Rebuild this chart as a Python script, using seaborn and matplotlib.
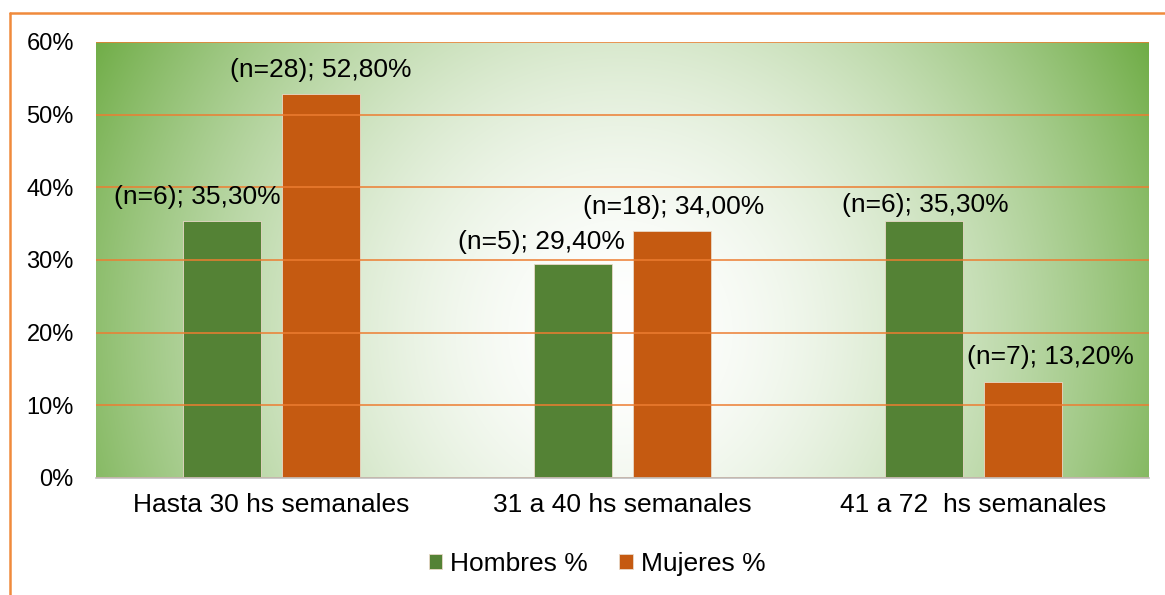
import numpy as np
import pandas as pd
import matplotlib
matplotlib.use('Agg')
import matplotlib.pyplot as plt
import seaborn as sns
from matplotlib.lines import Line2D
from matplotlib.colors import to_rgb

# datos del grafico
categorias = ['Hasta 30 hs semanales', '31 a 40 hs semanales', '41 a 72  hs semanales']
series = ['Hombres %', 'Mujeres %']
hombres_pct = [35.3, 29.4, 35.3]
mujeres_pct = [52.8, 34.0, 13.2]
hombres_n = [6, 5, 6]
mujeres_n = [28, 18, 7]
y_ticks = [0, 10, 20, 30, 40, 50, 60]

df = pd.DataFrame({
    'cat': categorias * 2,
    'pct': hombres_pct + mujeres_pct,
    'n': hombres_n + mujeres_n,
    'sexo': [series[0]] * 3 + [series[1]] * 3,
})

sns.set_theme(style='white')
plt.rcParams['font.family'] = ['Liberation Sans', 'DejaVu Sans']
plt.rcParams['text.color'] = 'black'

W, H = 1165, 595
fig = plt.figure(figsize=(W / 100, H / 100), dpi=100)
ax = fig.add_axes([96 / W, 1 - 478 / H, (1149 - 96) / W, (478 - 42) / H])

verde = '#548235'
naranja = '#C55A11'
sns.barplot(data=df, x='cat', y='pct', hue='sexo', palette=[verde, naranja],
            width=0.566, gap=0.214, ax=ax, saturation=1,
            edgecolor='#e9d9c8', linewidth=0.6, zorder=2)

# fondo degradado radial (blanco al centro, verde en los bordes)
pw, ph = 1053, 436
xx, yy = np.meshgrid(np.arange(pw), np.arange(ph))
r = np.sqrt((xx - 524) ** 2 + (yy - 290) ** 2) / 600
t = np.clip(r, 0, 1) ** 1.8
g = np.array(to_rgb('#70AD47'))
img = (1 - t)[..., None] * np.ones(3) + t[..., None] * g
ax.imshow(img, extent=(0, 1, 0, 1), transform=ax.transAxes, aspect='auto',
          zorder=0, interpolation='bilinear')

ax.set_xlim(-0.5, 2.5)
ax.set_ylim(0, 60)
ax.set_yticks(y_ticks)
ax.set_yticklabels([f'{v}%' for v in y_ticks])
ax.yaxis.grid(True, color='#ED7D31', lw=1.1, zorder=1)
ax.set_axisbelow(False)
for gl in ax.get_ygridlines():
    gl.set_zorder(1)
for s in ['top', 'right', 'left']:
    ax.spines[s].set_visible(False)
ax.spines['bottom'].set_color('#BFBFBF')
ax.spines['bottom'].set_linewidth(1.2)
ax.spines['bottom'].set_zorder(3)
ax.tick_params(axis='x', labelsize=19, pad=11, length=0, colors='black')
ax.tick_params(axis='y', labelsize=17, pad=16, length=0, colors='black')
ax.set_xlabel('')
ax.set_ylabel('')

# etiquetas de datos (desplazamiento en pixeles respecto al tope de la barra)
label_shift = [[(-25, 24), (-31, 22), (1, 16)],
               [(0, 24), (1, 24), (27, 25)]]
ns = [hombres_n, mujeres_n]
for i, cont in enumerate(ax.containers):
    for j, bar in enumerate(cont):
        val = bar.get_height()
        txt = f'(n={ns[i][j]}); {val:.2f}%'.replace('.', ',')
        dx, dy = label_shift[i][j]
        ax.annotate(txt, (bar.get_x() + bar.get_width() / 2, val),
                    xytext=(dx, dy), textcoords='offset pixels',
                    ha='center', va='center', fontsize=19, color='black', zorder=4)

handles, labels = ax.get_legend_handles_labels()
leg = ax.legend(handles, labels, loc='center', bbox_to_anchor=(597 / W, 1 - 564 / H),
                bbox_transform=fig.transFigure, ncol=2, frameon=False, fontsize=19,
                handlelength=0.5, handleheight=0.5, handletextpad=0.3, columnspacing=1.2)
for tx in leg.get_texts():
    tx.set_color('black')

# borde naranja del grafico
fig.add_artist(Line2D([10 / W, 10 / W], [0, 1 - 13 / H], color='#F08A3C', lw=1.8,
                      transform=fig.transFigure))
fig.add_artist(Line2D([10 / W, 1], [1 - 13 / H, 1 - 13 / H], color='#F08A3C', lw=1.8,
                      transform=fig.transFigure))

fig.savefig('out.png', dpi=100)
